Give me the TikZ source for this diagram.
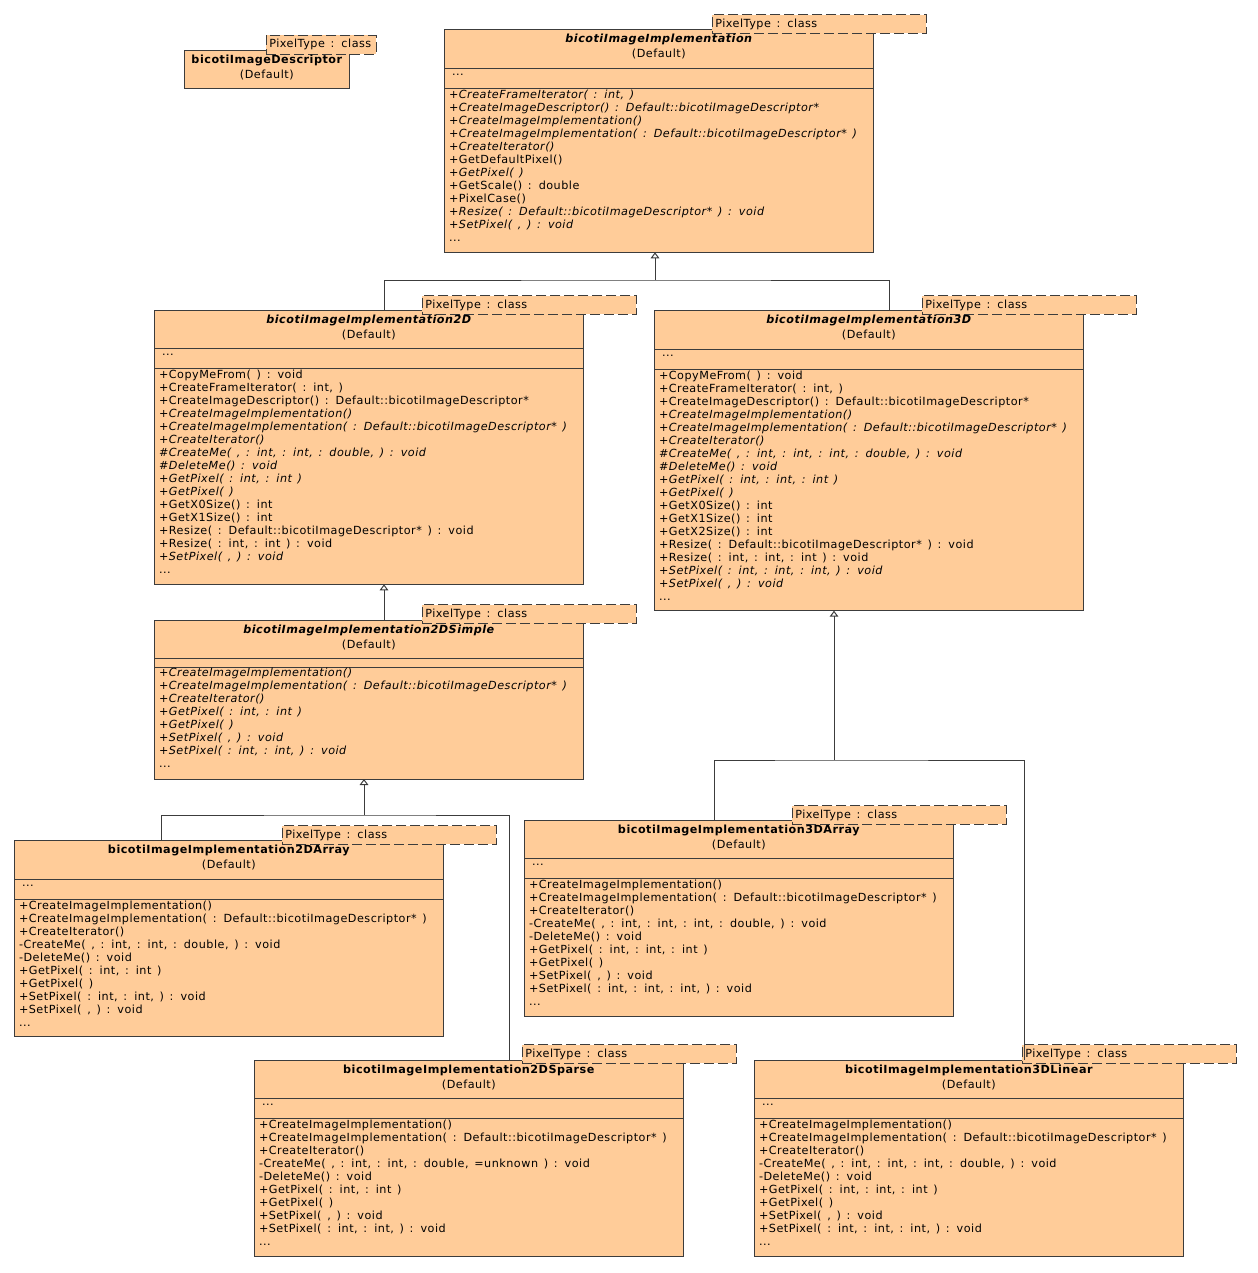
\documentclass[tikz,border=0pt]{standalone}
\usepackage{fontspec}
\setmainfont{DejaVu Sans}[LetterSpace=4.5, WordSpace=1.4]
\usetikzlibrary{arrows.meta,fit}
\definecolor{umlfill}{RGB}{255,204,153}
\definecolor{umlline}{RGB}{60,60,60}
\tikzset{
  clsbox/.style={draw=umlline, fill=umlfill, line width=0.75pt, inner sep=0pt, outer sep=0pt},
  tplbox/.style={draw=umlline, fill=umlfill, line width=0.75pt, dash pattern=on 7.5pt off 3pt, inner sep=0pt, outer sep=0pt},
  txt/.style={font=\fontsize{8.4}{10}\selectfont, inner sep=0pt, outer sep=0pt, text=black},
  tpltext/.style={txt, anchor=base west},
  titletext/.style={txt, anchor=base, font=\fontsize{8.4}{10}\selectfont\bfseries},
  deftext/.style={txt, anchor=base},
  optext/.style={txt, anchor=base west},
  divline/.style={draw=umlline, line width=0.75pt},
  conn/.style={draw=umlline, line width=0.75pt},
  gen/.style={conn, -{Triangle[open, length=4.5pt, width=6.5pt]}},
}
\newcommand\umldots{...}
% name, x1, y1, x2, y2, template x1, template x2, title
\newcommand\umlclass[8]{%
  \node[clsbox, fit={(#2,#3)(#4,#5)}] (#1) {};
  \node[tplbox, fit={(#6,#3-15.2)(#7,#3+3.4)}] (#1-tpl) {};
  \node[tpltext] (#1-tpltext) at (#6+3,#3-2.7) {PixelType : class};
  \node[titletext] (#1-title) at ({(#2+#4)/2},#3+13) {#8};
  \node[deftext] (#1-def) at ({(#2+#4)/2},#3+28) {(Default)};
}
\newcommand\umldiv[2]{\draw[divline] (#1.west |- 0,#2) -- (#1.east |- 0,#2);}
\newcommand\umlops[4]{%
  \foreach \t [count=\i from 0] in {#4} {\node[optext] (#1-op\i) at (#2,#3+13*\i) {\t};}%
}
\begin{document}
\begin{tikzpicture}[x=0.75pt, y=-0.75pt]
\useasboundingbox (0,0) rectangle (1257,1273);

% ---------- bicotiImageDescriptor
\umlclass{desc}{184.3}{50.7}{349.3}{89}{266.3}{376}{bicotiImageDescriptor}

% ---------- bicotiImageImplementation
\umlclass{main}{444.3}{30}{873.3}{252.3}{712.3}{926}{\itshape bicotiImageImplementation}
\umldiv{main}{68.3}\umldiv{main}{88.3}
\node[optext] (main-attr) at (452,75.3) {\umldots};
\umlops{main}{449}{98.3}{
 {\itshape +CreateFrameIterator( : int, )},
 {\itshape +CreateImageDescriptor() : Default::bicotiImageDescriptor*},
 {\itshape +CreateImageImplementation()},
 {\itshape +CreateImageImplementation( : Default::bicotiImageDescriptor* )},
 {\itshape +CreateIterator()},
 {+GetDefaultPixel()},
 {\itshape +GetPixel( )},
 {+GetScale() : double},
 {+PixelCase()},
 {\itshape +Resize( : Default::bicotiImageDescriptor* ) : void},
 {\itshape +SetPixel( , ) : void},
 {\umldots}}

% ---------- bicotiImageImplementation2D
\umlclass{impl2D}{154.3}{310.7}{583.3}{584.3}{422.3}{636}{\itshape bicotiImageImplementation2D}
\umldiv{impl2D}{348.3}\umldiv{impl2D}{368.3}
\node[optext] (impl2D-attr) at (162,355.3) {\umldots};
\umlops{impl2D}{159}{378.3}{
 {+CopyMeFrom( ) : void},
 {+CreateFrameIterator( : int, )},
 {+CreateImageDescriptor() : Default::bicotiImageDescriptor*},
 {\itshape +CreateImageImplementation()},
 {\itshape +CreateImageImplementation( : Default::bicotiImageDescriptor* )},
 {\itshape +CreateIterator()},
 {\itshape \#CreateMe( , : int, : int, : double, ) : void},
 {\itshape \#DeleteMe() : void},
 {\itshape +GetPixel( : int, : int )},
 {\itshape +GetPixel( )},
 {+GetX0Size() : int},
 {+GetX1Size() : int},
 {+Resize( : Default::bicotiImageDescriptor* ) : void},
 {+Resize( : int, : int ) : void},
 {\itshape +SetPixel( , ) : void},
 {\umldots}}

% ---------- bicotiImageImplementation3D
\umlclass{impl3D}{654.3}{310.7}{1083.3}{610.7}{922.3}{1136}{\itshape bicotiImageImplementation3D}
\umldiv{impl3D}{349}\umldiv{impl3D}{369}
\node[optext] (impl3D-attr) at (662,356) {\umldots};
\umlops{impl3D}{659}{379}{
 {+CopyMeFrom( ) : void},
 {+CreateFrameIterator( : int, )},
 {+CreateImageDescriptor() : Default::bicotiImageDescriptor*},
 {\itshape +CreateImageImplementation()},
 {\itshape +CreateImageImplementation( : Default::bicotiImageDescriptor* )},
 {\itshape +CreateIterator()},
 {\itshape \#CreateMe( , : int, : int, : int, : double, ) : void},
 {\itshape \#DeleteMe() : void},
 {\itshape +GetPixel( : int, : int, : int )},
 {\itshape +GetPixel( )},
 {+GetX0Size() : int},
 {+GetX1Size() : int},
 {+GetX2Size() : int},
 {+Resize( : Default::bicotiImageDescriptor* ) : void},
 {+Resize( : int, : int, : int ) : void},
 {\itshape +SetPixel( : int, : int, : int, ) : void},
 {\itshape +SetPixel( , ) : void},
 {\umldots}}

% ---------- bicotiImageImplementation2DSimple
\umlclass{simple}{154.3}{620}{583.3}{779}{422.3}{636}{\itshape bicotiImageImplementation2DSimple}
\umldiv{simple}{658.3}\umldiv{simple}{667.3}
\umlops{simple}{159}{676.5}{
 {\itshape +CreateImageImplementation()},
 {\itshape +CreateImageImplementation( : Default::bicotiImageDescriptor* )},
 {\itshape +CreateIterator()},
 {\itshape +GetPixel( : int, : int )},
 {\itshape +GetPixel( )},
 {\itshape +SetPixel( , ) : void},
 {\itshape +SetPixel( : int, : int, ) : void},
 {\umldots}}

% ---------- bicotiImageImplementation2DArray
\umlclass{arr2D}{14.3}{840.7}{443.3}{1036}{282.3}{496}{bicotiImageImplementation2DArray}
\umldiv{arr2D}{879}\umldiv{arr2D}{899}
\node[optext] (arr2D-attr) at (22,886) {\umldots};
\umlops{arr2D}{19}{909}{
 {+CreateImageImplementation()},
 {+CreateImageImplementation( : Default::bicotiImageDescriptor* )},
 {+CreateIterator()},
 {-CreateMe( , : int, : int, : double, ) : void},
 {-DeleteMe() : void},
 {+GetPixel( : int, : int )},
 {+GetPixel( )},
 {+SetPixel( : int, : int, ) : void},
 {+SetPixel( , ) : void},
 {\umldots}}

% ---------- bicotiImageImplementation3DArray
\umlclass{arr3D}{524.3}{820.7}{953.3}{1016}{792.3}{1006}{bicotiImageImplementation3DArray}
\umldiv{arr3D}{858.3}\umldiv{arr3D}{878.3}
\node[optext] (arr3D-attr) at (532,865.3) {\umldots};
\umlops{arr3D}{529}{888.3}{
 {+CreateImageImplementation()},
 {+CreateImageImplementation( : Default::bicotiImageDescriptor* )},
 {+CreateIterator()},
 {-CreateMe( , : int, : int, : int, : double, ) : void},
 {-DeleteMe() : void},
 {+GetPixel( : int, : int, : int )},
 {+GetPixel( )},
 {+SetPixel( , ) : void},
 {+SetPixel( : int, : int, : int, ) : void},
 {\umldots}}

% ---------- bicotiImageImplementation2DSparse
\umlclass{sparse2D}{254.3}{1060}{683.3}{1256}{522.3}{736}{bicotiImageImplementation2DSparse}
\umldiv{sparse2D}{1098.3}\umldiv{sparse2D}{1118.3}
\node[optext] (sparse2D-attr) at (262,1105.3) {\umldots};
\umlops{sparse2D}{259}{1128.3}{
 {+CreateImageImplementation()},
 {+CreateImageImplementation( : Default::bicotiImageDescriptor* )},
 {+CreateIterator()},
 {-CreateMe( , : int, : int, : double, =unknown ) : void},
 {-DeleteMe() : void},
 {+GetPixel( : int, : int )},
 {+GetPixel( )},
 {+SetPixel( , ) : void},
 {+SetPixel( : int, : int, ) : void},
 {\umldots}}

% ---------- bicotiImageImplementation3DLinear
\umlclass{lin3D}{754.3}{1060}{1183.3}{1256}{1022.3}{1236}{bicotiImageImplementation3DLinear}
\umldiv{lin3D}{1098.3}\umldiv{lin3D}{1118.3}
\node[optext] (lin3D-attr) at (762,1105.3) {\umldots};
\umlops{lin3D}{759}{1128.3}{
 {+CreateImageImplementation()},
 {+CreateImageImplementation( : Default::bicotiImageDescriptor* )},
 {+CreateIterator()},
 {-CreateMe( , : int, : int, : int, : double, ) : void},
 {-DeleteMe() : void},
 {+GetPixel( : int, : int, : int )},
 {+GetPixel( )},
 {+SetPixel( , ) : void},
 {+SetPixel( : int, : int, : int, ) : void},
 {\umldots}}

% ---------- generalizations
\coordinate (j1) at (655,280);
\draw[gen] (j1) -- (j1 |- main.south);
\draw[conn] (impl2D.north -| 384,0) |- (j1) -| (impl3D.north -| 889,0);

\draw[gen] (simple.north -| 384,0) -- (impl2D.south -| 384,0);

\coordinate (j3) at (364,815);
\draw[gen] (j3) -- (j3 |- simple.south);
\draw[conn] (arr2D.north -| 161,0) |- (j3) -| (sparse2D.north -| 509,0);

\coordinate (j4) at (834,760);
\draw[gen] (j4) -- (j4 |- impl3D.south);
\draw[conn] (arr3D.north -| 714,0) |- (j4) -| (lin3D.north -| 1024,0);
\end{tikzpicture}
\end{document}
